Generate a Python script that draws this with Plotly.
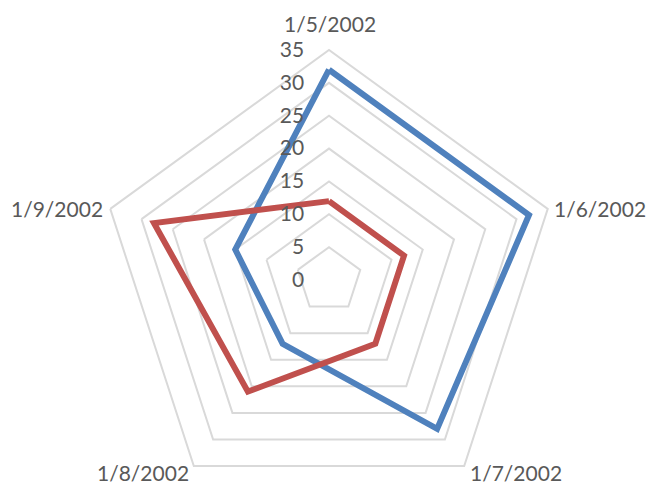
import plotly.graph_objects as go

categories = ["1/5/2002", "1/6/2002", "1/7/2002", "1/8/2002", "1/9/2002"]
series_blue = [32, 32, 28, 12, 15]
series_red = [12, 12, 12, 21, 28]
radial_ticks = [0, 5, 10, 15, 20, 25, 30, 35]

# label centre positions (pixels) for the category labels
label_px = [(330, 23), (600, 208), (516, 472), (143, 472), (57, 208)]

def closed(vals):
    return list(vals) + [vals[0]]

W, H = 649, 510
TOP = 50

def to_paper(px, py):
    return px / W, (H - py) / (H - TOP)

fig = go.Figure()
fig.add_trace(go.Scatterpolar(
    r=closed(series_blue), theta=closed(categories), mode="lines",
    line=dict(color="#4F81BD", width=6), name="Series1"))
fig.add_trace(go.Scatterpolar(
    r=closed(series_red), theta=closed(categories), mode="lines",
    line=dict(color="#C0504D", width=6), name="Series2"))

annotations = []
for cat, (px, py) in zip(categories, label_px):
    ax, ay = to_paper(px, py)
    annotations.append(dict(
        text=cat, x=ax, y=ay, xref="paper", yref="paper",
        xanchor="center", yanchor="middle", showarrow=False,
        font=dict(size=21, color="#595959")))

fig.update_layout(
    width=W, height=H,
    margin=dict(l=0, r=0, t=TOP, b=0),
    paper_bgcolor="white",
    plot_bgcolor="white",
    showlegend=False,
    font=dict(family="Lato, Calibri, sans-serif", size=21, color="#595959"),
    annotations=annotations,
    polar=dict(
        domain=dict(x=[99 / W, 559 / W], y=[0, 1]),
        bgcolor="white",
        gridshape="linear",
        radialaxis=dict(
            range=[0, 35], tickvals=radial_ticks, angle=90, tickangle=90,
            side="counterclockwise", showline=False,
            ticks="outside", ticklen=17, tickcolor="rgba(0,0,0,0)",
            gridcolor="#D9D9D9", gridwidth=2,
            tickfont=dict(size=21, color="#595959"),
        ),
        angularaxis=dict(
            rotation=90, direction="clockwise", categoryarray=categories,
            showgrid=False, showline=True, linecolor="#D9D9D9", linewidth=2,
            ticks="", showticklabels=False,
        ),
    ),
)

fig.write_html(
    "out.html",
    config={"displayModeBar": False},
    post_script="document.body.style.overflow='hidden';document.body.style.margin='0';",
)
